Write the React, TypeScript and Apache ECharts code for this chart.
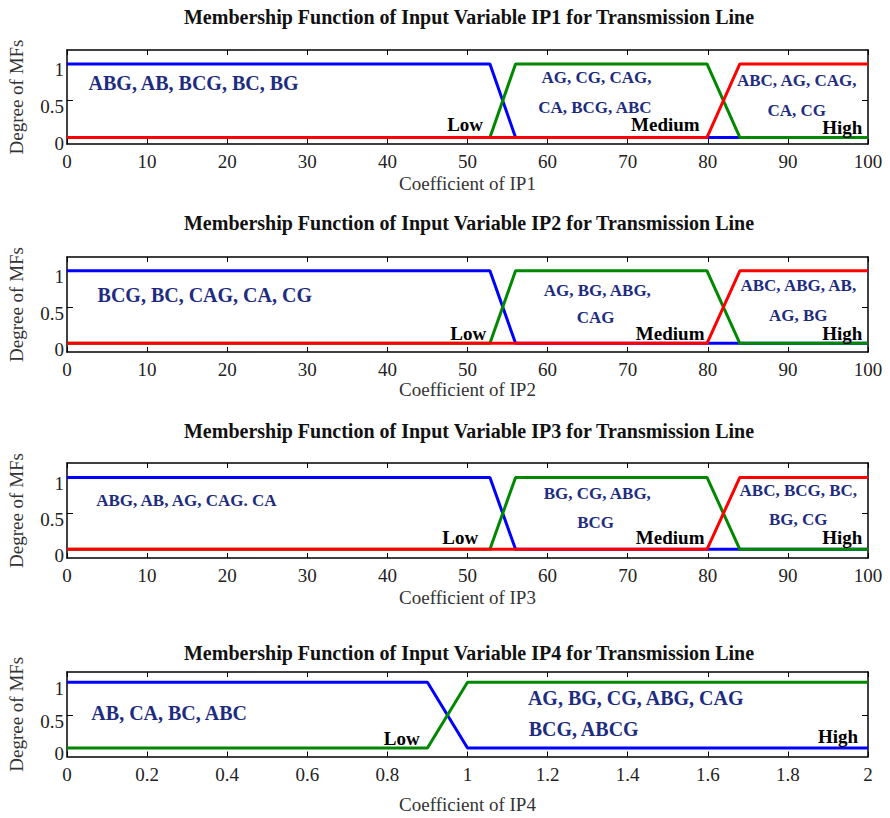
import React, { useEffect, useRef } from "react";
import * as echarts from "echarts";

// ---------- data ----------
const panelTitles = [
  "Membership Function of Input Variable IP1 for Transmission Line",
  "Membership Function of Input Variable IP2 for Transmission Line",
  "Membership Function of Input Variable IP3 for Transmission Line",
  "Membership Function of Input Variable IP4 for Transmission Line",
];
const xNames = ["Coefficient of IP1", "Coefficient of IP2", "Coefficient of IP3", "Coefficient of IP4"];
const yName = "Degree of MFs";
const xMax = [100, 100, 100, 2];
const xInterval = [10, 10, 10, 0.2];
const yTicks = [0, 0.5, 1];
const yRanges = [
  [-0.09, 1.19],
  [-0.12, 1.19],
  [-0.12, 1.2],
  [-0.13, 1.157],
];

// IP1..IP3 membership functions (Low / Medium / High)
const ipLow = [[0, 1], [52.8, 1], [56, 0], [100, 0]];
const ipMedium = [[0, 0], [52.8, 0], [56, 1], [79.9, 1], [84, 0], [100, 0]];
const ipHigh = [[0, 0], [79.9, 0], [84, 1], [100, 1]];
// IP4 membership functions (Low / High)
const ip4Low = [[0, 1], [0.9, 1], [1, 0], [2, 0]];
const ip4High = [[0, 0], [0.9, 0], [1, 1], [2, 1]];

// annotations: [x, y, text, kind]
const ip1Notes = [
  [15.8, 0.74, "ABG, AB, BCG, BC, BG", "big"],
  [66.1, 0.81, "AG, CG, CAG,", "small"],
  [65.9, 0.41, "CA, BCG, ABC", "small"],
  [91.1, 0.78, "ABC, AG, CAG,", "small"],
  [91.1, 0.37, "CA, CG", "small"],
  [49.7, 0.18, "Low", "mf"],
  [74.7, 0.17, "Medium", "mf"],
  [96.8, 0.14, "High", "mf"],
];
const ip2Notes = [
  [17.2, 0.665, "BCG, BC, CAG, CA, CG", "big"],
  [66.2, 0.73, "AG, BG, ABG,", "small"],
  [66.0, 0.35, "CAG", "small"],
  [91.3, 0.8, "ABC, ABG, AB,", "small"],
  [91.3, 0.39, "AG, BG", "small"],
  [50.1, 0.13, "Low", "mf"],
  [75.3, 0.13, "Medium", "mf"],
  [96.8, 0.13, "High", "mf"],
];
const ip3Notes = [
  [14.9, 0.68, "ABG, AB, AG, CAG. CA", "small"],
  [66.2, 0.78, "BG, CG, ABG,", "small"],
  [66.0, 0.37, "BCG", "small"],
  [91.3, 0.82, "ABC, BCG, BC,", "small"],
  [91.3, 0.41, "BG, CG", "small"],
  [49.1, 0.17, "Low", "mf"],
  [75.3, 0.17, "Medium", "mf"],
  [96.8, 0.17, "High", "mf"],
];
const ip4Notes = [
  [0.255, 0.53, "AB, CA, BC, ABC", "big"],
  [1.42, 0.76, "AG, BG, CG, ABG, CAG", "big"],
  [1.29, 0.29, "BCG, ABCG", "big"],
  [0.836, 0.15, "Low", "mf"],
  [1.925, 0.17, "High", "mf"],
];

// ---------- styles / layout ----------
const FONT = '"Liberation Serif", "Times New Roman", Times, serif';
const BLUE = "#0000ff";
const GREEN = "#008800";
const RED = "#ff0000";
const NOTE = "#1e2c80";
const noteStyles: Record<string, any> = {
  big: { fontSize: 20, color: NOTE },
  small: { fontSize: 17, color: NOTE },
  mf: { fontSize: 19, color: "#000" },
};
const grids = [
  { left: 67, top: 50, width: 801, height: 94 },
  { left: 67, top: 257, width: 801, height: 95 },
  { left: 67, top: 463, width: 801, height: 95 },
  { left: 67, top: 672, width: 801, height: 84.5 },
];
const titleY = [17, 223, 431, 653];
const xNameGap = [30, 28, 30, 38];

export default function App() {
  const ref = useRef<HTMLDivElement>(null);
  useEffect(() => {
    if (!ref.current) return;
    const chart = echarts.init(ref.current, undefined, { renderer: "svg" });

    const xAxes: any[] = [];
    const yAxes: any[] = [];
    const series: any[] = [];
    const lineSets = [
      [[ipLow, BLUE], [ipMedium, GREEN], [ipHigh, RED]],
      [[ipLow, BLUE], [ipMedium, GREEN], [ipHigh, RED]],
      [[ipLow, BLUE], [ipMedium, GREEN], [ipHigh, RED]],
      [[ip4Low, BLUE], [ip4High, GREEN]],
    ];
    const notes = [ip1Notes, ip2Notes, ip3Notes, ip4Notes];
    const axisLine = { show: true, onZero: false, lineStyle: { color: "#000", width: 1.5 } };

    for (let i = 0; i < 4; i++) {
      const xBase = {
        type: "value",
        gridIndex: i,
        min: 0,
        max: xMax[i],
        interval: xInterval[i],
        axisLine,
        axisTick: { show: true, inside: true, length: 5, lineStyle: { color: "#000", width: 1 } },
        splitLine: { show: false },
      };
      xAxes.push({
        ...xBase,
        position: "bottom",
        axisLabel: { color: "#222", fontSize: 19, fontFamily: FONT, margin: 8 },
        name: xNames[i],
        nameLocation: "middle",
        nameGap: xNameGap[i],
        nameTextStyle: { fontSize: 19, fontFamily: FONT, color: "#333" },
      });
      xAxes.push({ ...xBase, position: "top", axisLabel: { show: false } });

      const yBase = {
        type: "value",
        gridIndex: i,
        min: yRanges[i][0],
        max: yRanges[i][1],
        axisLine,
        axisTick: {
          show: true,
          inside: true,
          length: 6,
          customValues: yTicks,
          lineStyle: { color: "#000", width: 1 },
        },
        splitLine: { show: false },
      };
      yAxes.push({
        ...yBase,
        position: "left",
        axisLabel: {
          customValues: yTicks,
          color: "#222",
          fontSize: 19,
          fontFamily: FONT,
          margin: 3,
          verticalAlign: "top",
          lineHeight: 12,
        },
        name: yName,
        nameLocation: "middle",
        nameGap: 41,
        nameTextStyle: { fontSize: 19, fontFamily: FONT, color: "#333" },
      });
      yAxes.push({ ...yBase, position: "right", axisLabel: { show: false } });

      for (const [data, color] of lineSets[i] as any[]) {
        series.push({
          type: "line",
          xAxisIndex: 2 * i,
          yAxisIndex: 2 * i,
          data,
          symbol: "none",
          showSymbol: false,
          silent: true,
          lineStyle: { width: 3, color },
          itemStyle: { color },
          z: 3,
        });
      }
      series.push({
        type: "scatter",
        xAxisIndex: 2 * i,
        yAxisIndex: 2 * i,
        symbolSize: 0,
        silent: true,
        itemStyle: { color: "transparent" },
        label: {
          show: true,
          position: "inside",
          formatter: "{b}",
          fontFamily: FONT,
          fontWeight: "bold",
          textBorderWidth: 0,
          textShadowBlur: 0,
          opacity: 1,
        },
        data: notes[i].map((n: any) => ({
          value: [n[0], n[1]],
          name: n[2],
          label: { ...noteStyles[n[3]] },
        })),
        z: 5,
      });
    }

    chart.setOption({
      animation: false,
      backgroundColor: "#fff",
      grid: grids.map((g) => ({ ...g, outerBoundsMode: "none" })),
      xAxis: xAxes,
      yAxis: yAxes,
      series,
      graphic: panelTitles.map((t, i) => ({
        type: "text",
        x: 469,
        y: titleY[i],
        style: {
          text: t,
          fontFamily: FONT,
          fontWeight: "bold",
          fontSize: 20,
          fill: "#111",
          textAlign: "center",
          textVerticalAlign: "middle",
        },
      })),
    });
    return () => chart.dispose();
  }, []);
  return (
    <div
      ref={ref}
      style={{ position: "absolute", left: 0, top: 0, width: 890, height: 818 }}
    />
  );
}
